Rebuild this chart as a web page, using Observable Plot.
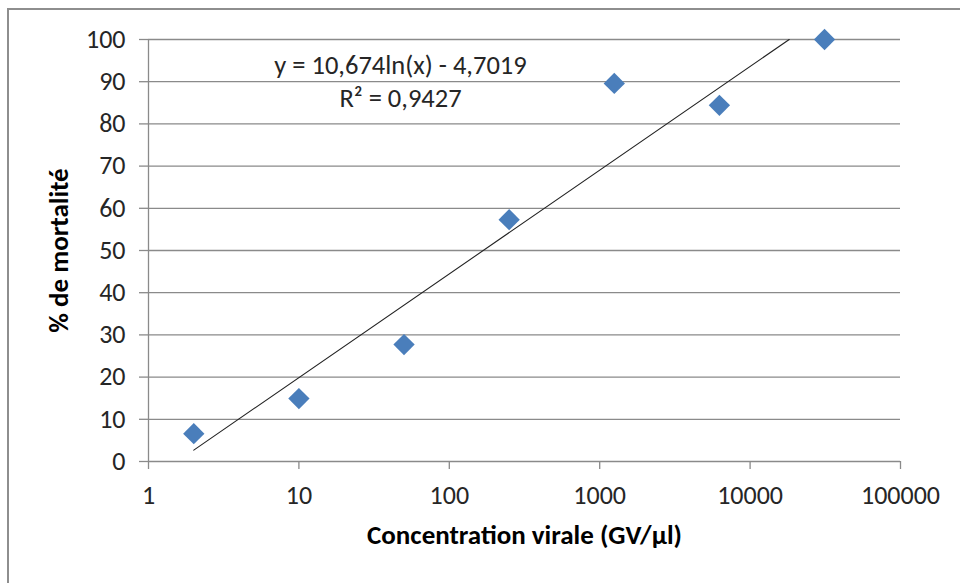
<!DOCTYPE html>
<html><head><meta charset="utf-8">
<script src="https://cdn.jsdelivr.net/npm/d3@7"></script>
<script src="https://cdn.jsdelivr.net/npm/@observablehq/plot@0.6"></script>
<style>
html,body{margin:0;padding:0;background:#fff;overflow:hidden;}
#wrap{position:relative;width:960px;height:583px;overflow:hidden;}
#chart{position:absolute;left:0;top:0;}
#border{position:absolute;left:7px;top:8px;width:1000px;height:1000px;border:2px solid #8e8e8e;box-sizing:border-box;pointer-events:none;}
</style></head><body>
<div id="wrap"><div id="chart"></div><div id="border"></div></div>
<script>
// Data
const concentration = [2, 10, 50, 250, 1250, 6250, 31250];
const mortality = [6.6, 14.9, 27.7, 57.3, 89.6, 84.4, 100];
// Logarithmic trend line endpoints (as drawn in the reference)
const trendX = [2, 18200];
const trendY = [2.7, 100];
const xTicks = [1, 10, 100, 1000, 10000, 100000];
const yTicks = [0, 10, 20, 30, 40, 50, 60, 70, 80, 90, 100];
const equation = "y = 10,674ln(x) - 4,7019";
const rSquared = "R² = 0,9427";
const xTitle = "Concentration virale (GV/µl)";
const yTitle = "% de mortalité";

const points = concentration.map((c, i) => ({c, m: mortality[i]}));
const trend = trendX.map((x, i) => ({x, y: trendY[i]}));

const FONT = "Carlito, Calibri, Lato, sans-serif";
const grid = "#8a8a8a";
const ink = "#262626";

const chart = Plot.plot({
  width: 960,
  height: 583,
  marginLeft: 148,
  marginRight: 60,
  marginTop: 39,
  marginBottom: 122,
  style: {fontFamily: FONT, fontSize: "26px", color: ink, background: "transparent"},
  x: {type: "log", domain: [1, 100000]},
  y: {domain: [0, 100]},
  marks: [
    Plot.ruleY(yTicks, {stroke: grid, strokeWidth: 1.3}),
    Plot.ruleX([1], {y1: 0, y2: 100, stroke: grid, strokeWidth: 1.3}),
    Plot.axisX(xTicks, {tickFormat: d => String(d), tickSize: 8, tickPadding: 16, label: null, stroke: grid, strokeWidth: 1.3, fill: ink, fontSize: 26}),
    Plot.axisY(yTicks, {tickSize: 9, tickPadding: 14, label: null, stroke: grid, strokeWidth: 1.3, fill: ink, fontSize: 26}),
    Plot.line(trend, {x: "x", y: "y", stroke: "#222", strokeWidth: 1.1}),
    Plot.dot(points, {x: "c", y: "m", symbol: "diamond2", r: 9.6, fill: "#4a7ebb", stroke: "none"}),
    Plot.text([equation], {frameAnchor: "top-left", dx: 252, dy: 26, lineAnchor: "middle", text: d => d, textAnchor: "middle", fontSize: 26.5, fill: ink}),
    Plot.text([rSquared], {frameAnchor: "top-left", dx: 252, dy: 59, lineAnchor: "middle", text: d => d, textAnchor: "middle", fontSize: 26.5, fill: ink}),
    Plot.text([xTitle], {frameAnchor: "bottom", dy: 74, lineAnchor: "middle", text: d => d, fontSize: 27, fontWeight: "bold", fill: "#000"}),
    Plot.text([yTitle], {frameAnchor: "left", dx: -89, lineAnchor: "middle", textAnchor: "middle", rotate: -90, text: d => d, fontSize: 27, fontWeight: "bold", fill: "#000"})
  ]
});
document.getElementById("chart").appendChild(chart);
</script>
</body></html>
